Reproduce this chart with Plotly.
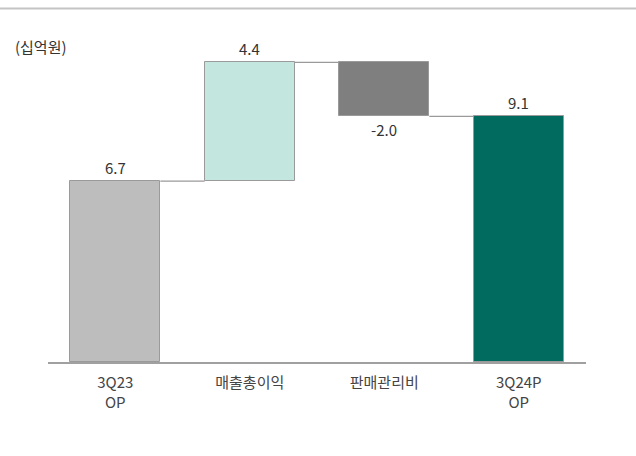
import plotly.graph_objects as go

# Operating profit bridge (KRW bn)
categories = ["3Q23<br>OP", "매출총이익", "판매관리비", "3Q24P<br>OP"]
changes = [6.7, 4.4, -2.0, 9.1]
measures = ["absolute", "relative", "relative", "absolute"]
value_labels = ["6.7", "4.4", "-2.0", "9.1"]
bar_colors = ["#bdbdbd", "#c3e6df", "#7f7f7f", "#006b5e"]

FONT = "Noto Sans CJK KR"
BAR_W = 0.67

# Compute floating bar bases and cumulative levels
bases, heights, levels = [], [], []
running = 0.0
for v, m in zip(changes, measures):
    if m == "absolute":
        bases.append(0.0)
        heights.append(v)
        running = v
    else:
        start = running
        running = start + v
        bases.append(min(start, running))
        heights.append(abs(v))
    levels.append(running)

xs = list(range(len(categories)))

fig = go.Figure()
fig.add_trace(go.Bar(
    x=xs, y=heights, base=bases, width=BAR_W,
    marker=dict(color=bar_colors, line=dict(color="#9a9a9a", width=1)),
    hoverinfo="skip", showlegend=False,
))

# Connector lines between adjacent bars
for i in range(len(categories) - 1):
    lvl = levels[i]
    fig.add_trace(go.Scatter(
        x=[xs[i] + BAR_W / 2, xs[i + 1] - BAR_W / 2], y=[lvl, lvl],
        mode="lines", line=dict(color="#9a9a9a", width=1.2),
        hoverinfo="skip", showlegend=False,
    ))

# Value labels: above bar top for increases, below bar for decreases
annotations = []
for i, (v, lab) in enumerate(zip(changes, value_labels)):
    if v >= 0:
        annotations.append(dict(x=xs[i], y=bases[i] + heights[i], text=lab,
                                showarrow=False, yanchor="bottom", yshift=1,
                                font=dict(family=FONT, size=15, color="#333333")))
    else:
        annotations.append(dict(x=xs[i], y=bases[i], text=lab,
                                showarrow=False, yanchor="top", yshift=-1,
                                font=dict(family=FONT, size=15, color="#333333")))

annotations.append(dict(xref="paper", yref="paper", x=-0.065, y=0.975,
                        xanchor="left", yanchor="middle", text="(십억원)",
                        showarrow=False,
                        font=dict(family=FONT, size=15, color="#333333")))

fig.update_layout(
    width=636, height=456,
    margin=dict(l=48, r=50, t=38, b=94),
    paper_bgcolor="white", plot_bgcolor="white",
    bargap=0,
    annotations=annotations,
    shapes=[dict(type="line", xref="paper", yref="paper",
                 x0=-0.2, x1=1.2, y0=1.091, y1=1.091,
                 line=dict(color="#c4c4c4", width=2))],
    xaxis=dict(range=[-0.5, 3.5], tickvals=xs, ticktext=categories,
               showgrid=False, zeroline=False, showline=True,
               linecolor="#a0a0a0", linewidth=2, ticks="",
               ticklabelstandoff=6,
               tickfont=dict(family=FONT, size=15, color="#444444")),
    yaxis=dict(range=[0, 12], visible=False, showgrid=False, zeroline=False),
)

fig.write_html("out.html")
